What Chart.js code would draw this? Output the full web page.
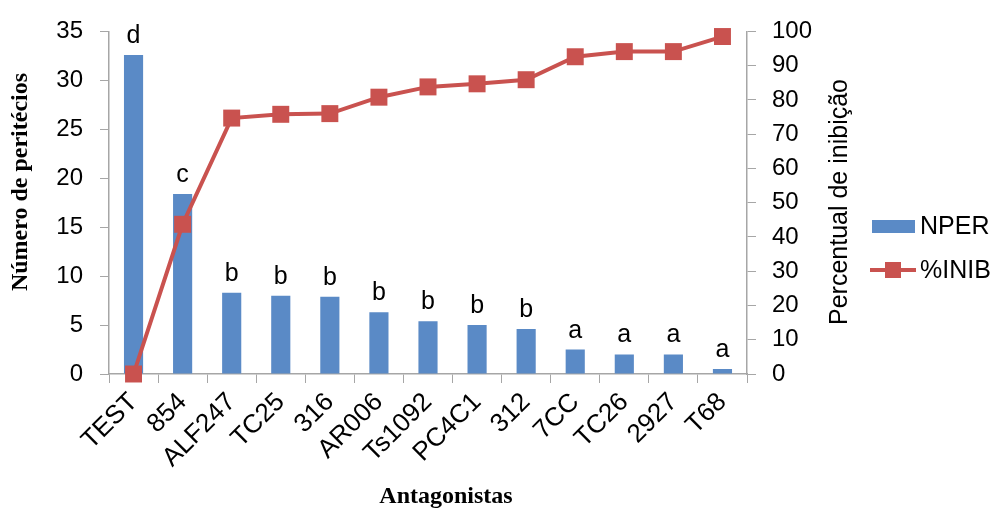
<!DOCTYPE html>
<html>
<head>
<meta charset="utf-8">
<script src="https://cdn.jsdelivr.net/npm/chart.js@4"></script>
<style>
  html, body { margin: 0; padding: 0; background: #fff; }
  #wrap { width: 997px; height: 508px; position: relative; }
</style>
</head>
<body>
<div id="wrap"><canvas id="chart"></canvas></div>
<script>
const categories = ["TEST", "854", "ALF247", "TC25", "316", "AR006", "Ts1092", "PC4C1", "312", "7CC", "TC26", "2927", "T68"];
const nper = [32.6, 18.4, 8.3, 8.0, 7.9, 6.3, 5.4, 5.0, 4.6, 2.5, 2.0, 2.0, 0.5];
const inib = [0, 43.7, 74.7, 75.8, 76.0, 80.8, 83.8, 84.7, 85.9, 92.6, 94.1, 94.1, 98.5];
const letters = ["d", "c", "b", "b", "b", "b", "b", "b", "b", "a", "a", "a", "a"];
const leftTicks = [0, 5, 10, 15, 20, 25, 30, 35];
const rightTicks = [0, 10, 20, 30, 40, 50, 60, 70, 80, 90, 100];

const blue = "#5a8ac6";
const red = "#c9524f";
const axisGray = "#a6a6a6";
const sans = "'Liberation Sans', Arial, sans-serif";
const serif = "'Liberation Serif', 'Times New Roman', serif";

// letras de significancia em cima das barras + titulos + legenda
const extras = {
  id: "extras",
  afterDatasetsDraw(chart) {
    const ctx = chart.ctx;
    const meta = chart.getDatasetMeta(0);
    ctx.save();
    ctx.fillStyle = "#000";
    ctx.font = "25px " + sans;
    ctx.textAlign = "center";
    ctx.textBaseline = "alphabetic";
    meta.data.forEach((bar, i) => {
      ctx.fillText(letters[i], bar.x, bar.y - 12);
    });
    ctx.restore();
  },
  afterDraw(chart) {
    const ctx = chart.ctx;
    ctx.save();
    ctx.fillStyle = "#000";

    // titulo eixo esquerdo
    ctx.font = "bold 24px " + serif;
    ctx.textAlign = "center";
    ctx.textBaseline = "middle";
    ctx.translate(21, 182);
    ctx.rotate(-Math.PI / 2);
    ctx.fillText("Número de peritécios", 0, 0);
    ctx.setTransform(1, 0, 0, 1, 0, 0);

    // titulo eixo direito
    ctx.font = "25px " + sans;
    ctx.translate(840, 202);
    ctx.rotate(-Math.PI / 2);
    ctx.fillText("Percentual de inibição", 0, 0);
    ctx.setTransform(1, 0, 0, 1, 0, 0);

    // titulo eixo x
    ctx.font = "bold 24px " + serif;
    ctx.fillText("Antagonistas", 446, 497);

    // legenda
    ctx.fillStyle = blue;
    ctx.fillRect(872, 220, 43, 13);
    ctx.strokeStyle = red;
    ctx.lineWidth = 4;
    ctx.beginPath();
    ctx.moveTo(870, 270);
    ctx.lineTo(916, 270);
    ctx.stroke();
    ctx.fillStyle = red;
    ctx.fillRect(885, 262, 16, 16);

    ctx.fillStyle = "#000";
    ctx.font = "25px " + sans;
    ctx.textAlign = "left";
    ctx.fillText("NPER", 920, 227);
    ctx.fillText("%INIB", 920, 271);
    ctx.restore();
  }
};

new Chart(document.getElementById("chart"), {
  data: {
    labels: categories,
    datasets: [
      {
        type: "bar",
        label: "NPER",
        data: nper,
        backgroundColor: blue,
        yAxisID: "y",
        barPercentage: 0.39,
        categoryPercentage: 1,
        order: 1
      },
      {
        type: "line",
        label: "%INIB",
        data: inib,
        borderColor: red,
        backgroundColor: red,
        borderWidth: 4,
        pointStyle: "rect",
        pointRadius: 12,
        pointBorderWidth: 0,
        pointBackgroundColor: red,
        yAxisID: "y1",
        clip: false,
        order: 0
      }
    ]
  },
  options: {
    responsive: true,
    maintainAspectRatio: false,
    animation: false,
    layout: { padding: { top: 28, left: 0, right: 0, bottom: 0 } },
    plugins: {
      legend: { display: false },
      tooltip: { enabled: false }
    },
    scales: {
      x: {
        offset: true,
        grid: { display: true, drawOnChartArea: false, offset: true, tickLength: 9, color: axisGray },
        border: { color: axisGray, width: 1.5 },
        ticks: {
          color: "#000",
          font: { family: sans, size: 26 },
          minRotation: 45,
          maxRotation: 45,
          padding: 4,
          autoSkip: false
        },
        afterFit(scale) { scale.height = 134; }
      },
      y: {
        position: "left",
        min: 0,
        max: 35,
        afterBuildTicks(scale) { scale.ticks = leftTicks.map(v => ({ value: v })); },
        grid: { display: true, drawOnChartArea: false, tickLength: 9, color: axisGray },
        border: { color: axisGray, width: 1.5 },
        ticks: { color: "#000", font: { family: sans, size: 24 }, padding: 17 },
        afterFit(scale) { scale.width = 109; }
      },
      y1: {
        position: "right",
        min: 0,
        max: 100,
        afterBuildTicks(scale) { scale.ticks = rightTicks.map(v => ({ value: v })); },
        grid: { display: true, drawOnChartArea: false, tickLength: 9, color: axisGray },
        border: { color: axisGray, width: 1.5 },
        ticks: { color: "#000", font: { family: sans, size: 24 }, padding: 16 },
        afterFit(scale) { scale.width = 250; }
      }
    }
  },
  plugins: [extras]
});
</script>
</body>
</html>
